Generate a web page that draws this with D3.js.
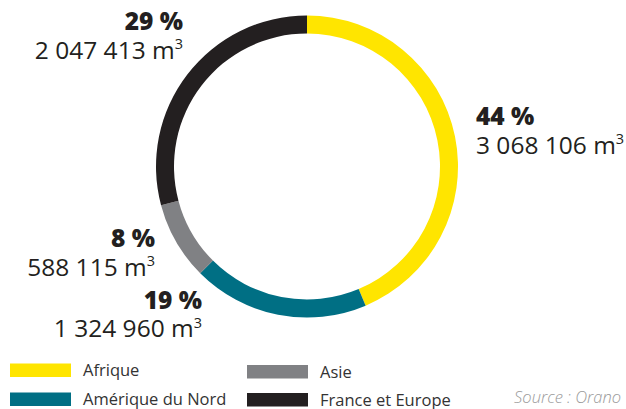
<!DOCTYPE html>
<html lang="fr">
<head>
<meta charset="utf-8">
<script src="https://cdn.jsdelivr.net/npm/d3@7"></script>
<style>
  html, body { margin: 0; padding: 0; background: #fff; }
  svg { display: block; }
</style>
</head>
<body>
<svg id="chart" width="626" height="409"></svg>
<script>
// Volumes par zone géographique
const regions = ["Afrique", "Amérique du Nord", "Asie", "France et Europe"];
const volumes = [3068106, 1324960, 588115, 2047413];
const colors = ["#FFE500", "#006F84", "#808184", "#231F20"];
const sourceText = "Source : Orano";

const cx = 307, cy = 166.5;
const rOuter = 151, rInner = 133;

const svg = d3.select("#chart");
const total = d3.sum(volumes);
const fr = d3.formatLocale({ decimal: ",", thousands: " ", grouping: [3], currency: ["", " €"] });
const fmtNum = fr.format(",d");

const color = d3.scaleOrdinal().domain(regions).range(colors);

const pie = d3.pie().sort(null).value(d => d.v).startAngle(0).endAngle(2 * Math.PI);
const arc = d3.arc().innerRadius(rInner).outerRadius(rOuter);
const data = regions.map((r, i) => ({ r, v: volumes[i] }));
const arcs = pie(data);

const g = svg.append("g").attr("transform", `translate(${cx},${cy})`);
g.selectAll("path")
  .data(arcs)
  .join("path")
  .attr("d", arc)
  .attr("fill", d => color(d.data.r));

// Label placement per slice: anchor point relative to centre and alignment
const labelPos = {
  "Afrique":           { x: 169,  y: -41.5, anchor: "start" },
  "Amérique du Nord":  { x: -105, y: 142,   anchor: "end" },
  "Asie":              { x: -152, y: 80.5,  anchor: "end" },
  "France et Europe":  { x: -124, y: -136.5, anchor: "end" }
};
const lineGap = 28.5;

const labels = svg.append("g")
  .attr("transform", `translate(${cx},${cy})`)
  .style("font-family", "'Open Sans', sans-serif")
  .attr("fill", "#231F20");

arcs.forEach(d => {
  const p = labelPos[d.data.r];
  const pct = Math.round(d.data.v / total * 100);
  labels.append("text")
    .attr("x", p.x).attr("y", p.y)
    .attr("text-anchor", p.anchor)
    .style("font-size", "24.5px")
    .style("font-weight", 800)
    .text(`${pct} %`);
  const t = labels.append("text")
    .attr("x", p.x).attr("y", p.y + lineGap)
    .attr("text-anchor", p.anchor)
    .style("font-size", "24.5px")
    .style("font-weight", 500);
  t.append("tspan").text(fmtNum(d.data.v) + "\u00A0m");
  t.append("tspan").attr("dy", -9.5).style("font-size", "14.5px").text("3");
});

// Legend
const legendItems = [
  { r: regions[0], x: 10,  y: 363.5 },
  { r: regions[1], x: 10,  y: 392.5 },
  { r: regions[2], x: 247, y: 365 },
  { r: regions[3], x: 247, y: 393 }
];
const legend = svg.append("g")
  .style("font-family", "'Open Sans', sans-serif");
legend.selectAll("rect")
  .data(legendItems)
  .join("rect")
  .attr("x", d => d.x).attr("y", d => d.y)
  .attr("width", 61).attr("height", 13.5)
  .attr("fill", d => color(d.r));
legend.selectAll("text")
  .data(legendItems)
  .join("text")
  .attr("x", d => d.x + 73)
  .attr("y", d => d.y + 12.5)
  .attr("fill", "#333")
  .style("font-size", "16.5px")
  .text(d => d.r);

svg.append("text")
  .attr("x", 621).attr("y", 403)
  .attr("text-anchor", "end")
  .attr("fill", "#9a9a9a")
  .style("font-family", "'Open Sans', sans-serif")
  .style("font-style", "italic")
  .style("font-weight", 300)
  .style("font-size", "16.5px")
  .text(sourceText);
</script>
</body>
</html>
